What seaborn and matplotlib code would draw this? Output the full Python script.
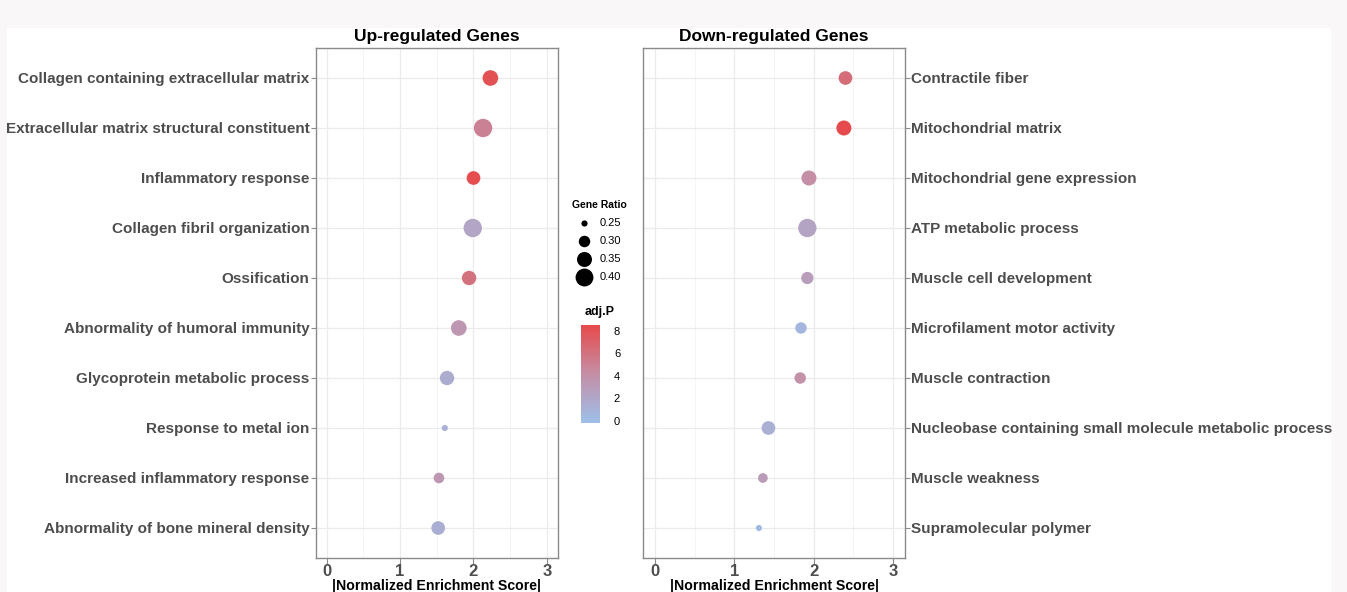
import numpy as np
import pandas as pd
import matplotlib
matplotlib.use("Agg")
import matplotlib.pyplot as plt
import matplotlib.colors as mcolors
from matplotlib.lines import Line2D
from matplotlib.patches import Rectangle
import seaborn as sns

# ---------------- data ----------------
up_terms = ["Collagen containing extracellular matrix",
            "Extracellular matrix structural constituent",
            "Inflammatory response",
            "Collagen fibril organization",
            "Ossification",
            "Abnormality of humoral immunity",
            "Glycoprotein metabolic process",
            "Response to metal ion",
            "Increased inflammatory response",
            "Abnormality of bone mineral density"]
up_nes = [2.23, 2.13, 2.00, 1.99, 1.94, 1.80, 1.64, 1.61, 1.53, 1.52]
up_ratio = [0.36, 0.41, 0.33, 0.41, 0.34, 0.36, 0.34, 0.25, 0.29, 0.33]
up_padj = [8.0, 5.0, 8.3, 2.2, 6.0, 3.4, 1.5, 1.1, 3.4, 1.3]

down_terms = ["Contractile fiber",
              "Mitochondrial matrix",
              "Mitochondrial gene expression",
              "ATP metabolic process",
              "Muscle cell development",
              "Microfilament motor activity",
              "Muscle contraction",
              "Nucleobase containing small molecule metabolic process",
              "Muscle weakness",
              "Supramolecular polymer"]
down_nes = [2.40, 2.38, 1.94, 1.92, 1.92, 1.84, 1.83, 1.43, 1.36, 1.31]
down_ratio = [0.33, 0.35, 0.35, 0.41, 0.31, 0.30, 0.30, 0.33, 0.28, 0.25]
down_padj = [6.3, 8.4, 4.2, 2.3, 2.8, 0.6, 4.0, 1.2, 3.0, 0.3]

ratio_ticks = [0.25, 0.30, 0.35, 0.40]
padj_ticks = [0, 2, 4, 6, 8]
x_ticks = [0, 1, 2, 3]

# ---------------- style ----------------
sns.set_theme(style="white")
plt.rcParams['font.family'] = ['Liberation Sans', 'DejaVu Sans']

W, H = 1347, 592
fig = plt.figure(figsize=(W / 100, H / 100), dpi=100)
fig.patch.set_facecolor("#faf7f8")
fig.add_artist(Rectangle((7 / W, 0), (1331 - 7) / W, (592 - 28) / H,
                         transform=fig.transFigure, facecolor="white",
                         edgecolor="none", zorder=0))

cmap = mcolors.LinearSegmentedColormap.from_list("bp", ["#9dbfea", "#c48fa6", "#e64a4b"])
vmin, vmax = -0.2, 8.5
norm = mcolors.Normalize(vmin=vmin, vmax=vmax)
rmin, rmax = 0.24, 0.41
area_range = (10, 175)   # points^2


def fx(px):
    return px / W


def fy(py):
    return 1 - py / H


def panel(rect, terms, nes, ratio, padj, title, side):
    ax = fig.add_axes(rect)
    df = pd.DataFrame({"term": terms, "nes": nes, "ratio": ratio, "padj": padj})
    df["y"] = np.arange(len(terms))
    sns.scatterplot(data=df, x="nes", y="y", size="ratio", sizes=area_range,
                    size_norm=(rmin, rmax), hue="padj", palette=cmap,
                    hue_norm=norm, edgecolor="none", linewidth=0,
                    legend=False, ax=ax, zorder=3)
    ax.set_xlim(-0.15, 3.15)
    ax.set_ylim(len(terms) - 0.4, -0.6)
    ax.set_xticks(x_ticks)
    ax.set_xticks([0.5, 1.5, 2.5], minor=True)
    ax.set_yticks(df["y"])
    ax.set_yticklabels(terms)
    ax.grid(True, which="major", color="#ebebeb", lw=0.9, zorder=0)
    ax.grid(True, which="minor", axis="x", color="#f2f2f2", lw=0.6, zorder=0)
    ax.set_axisbelow(True)
    for s in ax.spines.values():
        s.set_color("#8a8a8a")
        s.set_linewidth(1.0)
    ax.tick_params(axis="y", which="major", length=3.5, width=0.8, color="#8a8a8a",
                   labelsize=11.0, labelcolor="#4d4d4d", pad=1,
                   left=(side == "left"), right=(side == "right"),
                   labelleft=(side == "left"), labelright=(side == "right"))
    ax.tick_params(axis="x", which="major", length=4, width=0.8, color="#8a8a8a",
                   labelsize=12, labelcolor="#4d4d4d", pad=0, bottom=True)
    ax.tick_params(axis="x", which="minor", length=0)
    for lab in ax.get_yticklabels() + ax.get_xticklabels():
        lab.set_fontweight("bold")
    ax.set_xlabel("|Normalized Enrichment Score|", fontsize=10.2,
                  fontweight="bold", color="black", labelpad=0)
    ax.set_ylabel("")
    ax.set_title(title, fontsize=12.5, fontweight="bold", color="black", pad=5)
    return ax


ax1 = panel([fx(315.5), fy(558), fx(558 - 315.5), (558 - 48) / H],
            up_terms, up_nes, up_ratio, up_padj, "Up-regulated Genes", "left")
ax2 = panel([fx(643), fy(558), fx(905 - 643), (558 - 48) / H],
            down_terms, down_nes, down_ratio, down_padj, "Down-regulated Genes", "right")

# ---------------- size legend ----------------
fig.text(fx(599), fy(205), "Gene Ratio", fontsize=7.5, fontweight="bold",
         ha="center", va="center", color="black")
for i, r in enumerate(ratio_ticks):
    t = (r - rmin) / (rmax - rmin)
    area = area_range[0] + t * (area_range[1] - area_range[0])
    yy = fy(223 + i * 17.9)
    fig.add_artist(Line2D([fx(584)], [yy], marker="o", markersize=np.sqrt(area),
                          color="black", markeredgewidth=0, linestyle="none",
                          transform=fig.transFigure))
    fig.text(fx(599.5), yy, f"{r:.2f}", fontsize=8, ha="left", va="center",
             color="black")

# ---------------- colour bar ----------------
fig.text(fx(600), fy(311.5), "adj.P", fontsize=9, fontweight="bold",
         ha="center", va="center", color="black")
cax = fig.add_axes([fx(581), fy(423), fx(19), (423 - 325) / H])
sm = plt.cm.ScalarMappable(norm=norm, cmap=cmap)
cb = fig.colorbar(sm, cax=cax, ticks=padj_ticks)
cb.outline.set_visible(False)
cax.tick_params(axis="y", length=3, width=0.6, color="white", direction="in",
                labelsize=8, labelcolor="black", pad=10)

fig.savefig("out.png", dpi=100, facecolor=fig.get_facecolor())
